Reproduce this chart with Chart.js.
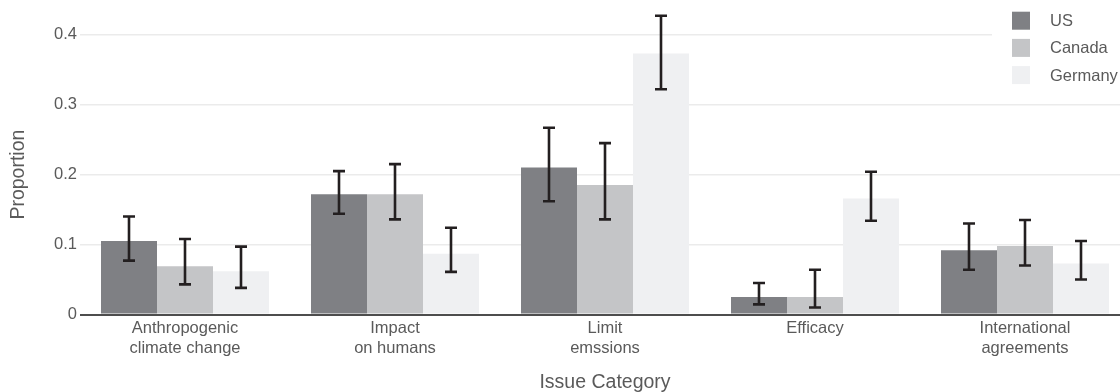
<!DOCTYPE html>
<html>
<head>
<meta charset="utf-8">
<script src="https://cdn.jsdelivr.net/npm/chart.js@4/dist/chart.umd.min.js"></script>
<style>
  html, body { margin: 0; padding: 0; background: #fff; }
  #wrap { width: 1120px; height: 392px; overflow: hidden; position: relative; }
  canvas { display: block; }
</style>
</head>
<body>
<div id="wrap"><canvas id="chart-bars" width="1130" height="392"></canvas></div>
<script>
const categories = [
    ['Anthropogenic', 'climate change'],
    ['Impact', 'on humans'],
    ['Limit', 'emssions'],
    'Efficacy',
    ['International', 'agreements']
];
const countries = ['US', 'Canada', 'Germany'];

const usValues = [0.105, 0.172, 0.210, 0.025, 0.092];
const canadaValues = [0.069, 0.172, 0.185, 0.025, 0.098];
const germanyValues = [0.062, 0.087, 0.373, 0.166, 0.073];

// lower / upper ends of the error bars
const usLow = [0.077, 0.144, 0.162, 0.0145, 0.064];
const usHigh = [0.140, 0.205, 0.267, 0.045, 0.130];
const canadaLow = [0.043, 0.136, 0.136, 0.010, 0.070];
const canadaHigh = [0.108, 0.215, 0.245, 0.064, 0.135];
const germanyLow = [0.038, 0.061, 0.322, 0.134, 0.050];
const germanyHigh = [0.097, 0.124, 0.427, 0.204, 0.105];

const yTicks = [0, 0.1, 0.2, 0.3, 0.4];

const barColors = ['#7f8084', '#c4c5c7', '#eff0f2'];
const textColor = '#5a5a5a';
const fontFamily = '"Liberation Sans", Arial, sans-serif';

const errorLow = [usLow, canadaLow, germanyLow];
const errorHigh = [usHigh, canadaHigh, germanyHigh];

const errorBars = {
    id: 'errorBars',
    afterDatasetsDraw(chart) {
        const ctx = chart.ctx;
        const y = chart.scales.y;
        ctx.save();
        ctx.strokeStyle = '#231f20';
        ctx.lineWidth = 2.6;
        chart.data.datasets.forEach((ds, d) => {
            const meta = chart.getDatasetMeta(d);
            meta.data.forEach((bar, i) => {
                const top = y.getPixelForValue(errorHigh[d][i]);
                const bottom = y.getPixelForValue(errorLow[d][i]);
                ctx.beginPath();
                ctx.moveTo(bar.x, top);
                ctx.lineTo(bar.x, bottom);
                ctx.moveTo(bar.x - 6, top);
                ctx.lineTo(bar.x + 6, top);
                ctx.moveTo(bar.x - 6, bottom);
                ctx.lineTo(bar.x + 6, bottom);
                ctx.stroke();
            });
        });
        ctx.restore();
    }
};

const boxLegend = {
    id: 'boxLegend',
    afterDraw(chart) {
        const ctx = chart.ctx;
        ctx.save();
        ctx.fillStyle = '#ffffff';
        ctx.fillRect(992, 0, 140, 92);
        ctx.font = '16.5px ' + fontFamily;
        ctx.textBaseline = 'middle';
        chart.data.datasets.forEach((ds, d) => {
            const cy = 20.7 + d * 27.2;
            ctx.fillStyle = ds.backgroundColor;
            ctx.fillRect(1012, cy - 9, 18, 18);
            ctx.fillStyle = textColor;
            ctx.fillText(ds.label, 1050, cy + 1);
        });
        ctx.restore();
    }
};

const seriesValues = [usValues, canadaValues, germanyValues];

new Chart(document.getElementById('chart-bars'), {
    type: 'bar',
    data: {
        labels: categories,
        datasets: countries.map((name, d) => ({
            label: name,
            data: seriesValues[d],
            backgroundColor: barColors[d],
            borderWidth: 0,
            categoryPercentage: 0.8,
            barPercentage: 1.0
        }))
    },
    options: {
        responsive: false,
        animation: false,
        layout: { padding: { top: 34.7, left: 0, right: 0, bottom: 0 } },
        plugins: {
            legend: { display: false },
            tooltip: { enabled: false }
        },
        scales: {
            x: {
                border: { display: false },
                grid: { display: false, drawTicks: false },
                ticks: {
                    color: textColor,
                    padding: 4,
                    maxRotation: 0,
                    autoSkip: false,
                    font: { family: fontFamily, size: 16.5, lineHeight: 1.2 }
                },
                title: {
                    display: true,
                    text: 'Issue Category',
                    color: textColor,
                    padding: { top: 0, bottom: -2 },
                    font: { family: fontFamily, size: 19.5 }
                },
                afterFit(scale) { scale.height = 392 - 314.5; }
            },
            y: {
                min: 0,
                max: 0.4,
                border: { display: false },
                grid: {
                    drawTicks: false,
                    color: c => c.tick.value === 0 ? '#4d4d4d' : '#ebebeb',
                    lineWidth: c => c.tick.value === 0 ? 2 : 1.5
                },
                afterBuildTicks(scale) {
                    scale.ticks = yTicks.map(v => ({ value: v }));
                },
                ticks: {
                    color: textColor,
                    padding: 3,
                    callback: v => v === 0 ? '0' : v.toFixed(1),
                    font: { family: fontFamily, size: 16.5 }
                },
                title: {
                    display: true,
                    text: 'Proportion',
                    color: textColor,
                    padding: { top: 7, bottom: 0 },
                    font: { family: fontFamily, size: 19.5 }
                },
                afterFit(scale) { scale.width = 80; }
            }
        }
    },
    plugins: [errorBars, boxLegend]
});
</script>
</body>
</html>
